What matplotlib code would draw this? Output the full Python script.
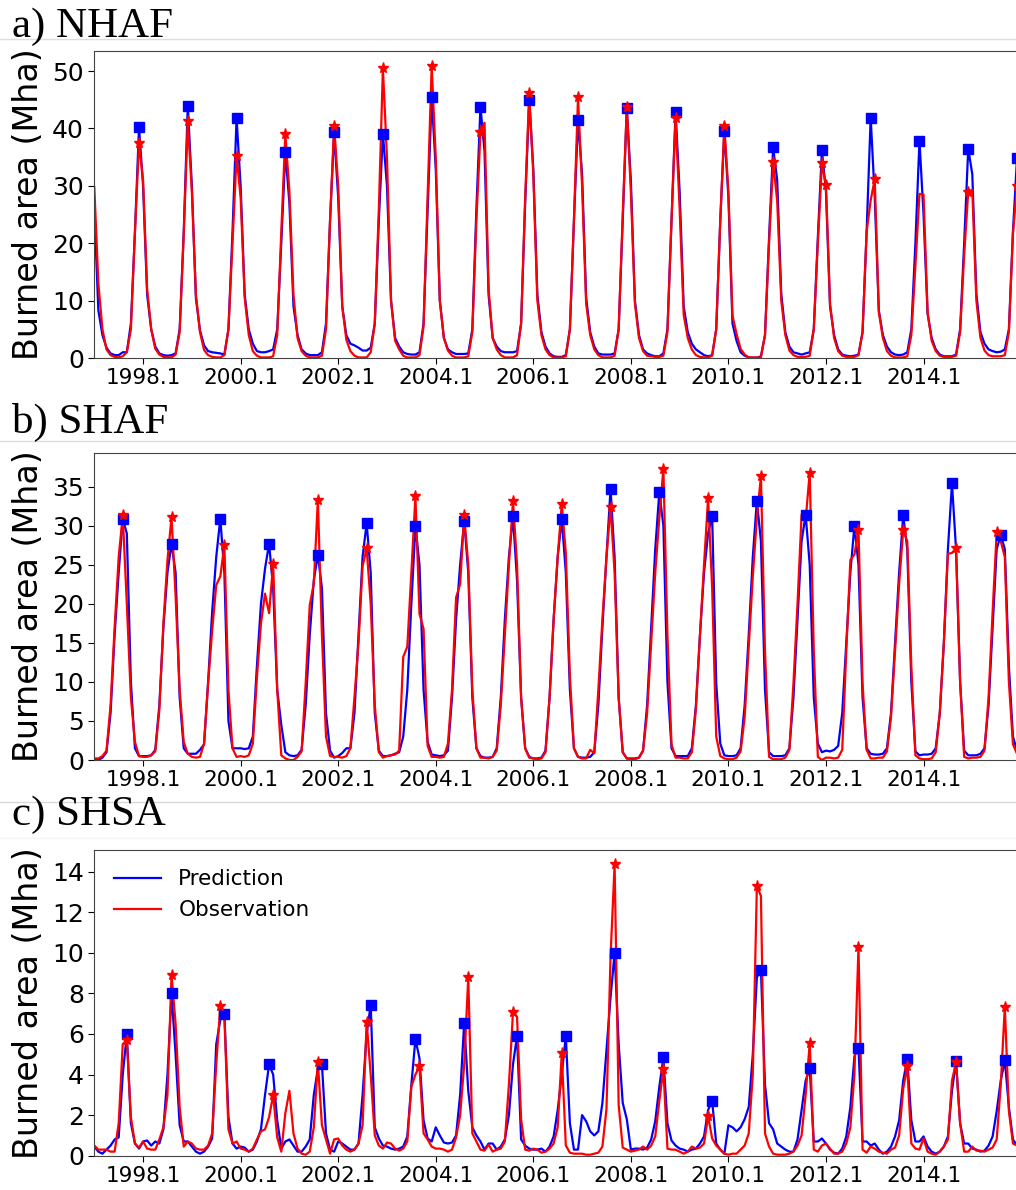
import numpy as np
import matplotlib
matplotlib.use('Agg')
import matplotlib.pyplot as plt
from matplotlib.lines import Line2D

# monthly values, Jan 1997 .. Dec 2015 (one row per year)
nhaf_obs = [
    [29.8, 13.0, 5.0, 1.5, 0.5, 0.2, 0.1, 0.3, 1.0, 5.0, 22.0, 37.4],
    [31.0, 12.0, 5.0, 1.6, 0.6, 0.2, 0.1, 0.1, 0.6, 4.5, 21.5, 41.3],
    [29.0, 11.0, 4.5, 1.4, 0.5, 0.2, 0.1, 0.1, 0.5, 5.0, 20.0, 35.2],
    [28.0, 10.5, 4.0, 1.2, 0.4, 0.1, 0.1, 0.1, 0.3, 4.0, 22.0, 39.0],
    [29.0, 11.0, 3.5, 1.2, 0.4, 0.1, 0.1, 0.1, 0.4, 5.0, 24.0, 40.5],
    [30.0, 9.0, 3.2, 1.2, 0.4, 0.1, 0.1, 0.1, 1.0, 6.0, 26.0, 50.5],
    [35.0, 10.0, 3.0, 1.5, 0.4, 0.1, 0.1, 0.1, 0.5, 5.5, 28.0, 50.9],
    [35.0, 10.0, 3.5, 1.3, 0.4, 0.1, 0.1, 0.1, 0.3, 4.5, 24.0, 39.3],
    [41.0, 12.0, 3.5, 1.5, 0.5, 0.1, 0.1, 0.1, 0.5, 6.0, 28.0, 46.1],
    [32.0, 10.0, 4.0, 1.5, 0.5, 0.1, 0.1, 0.1, 0.3, 5.0, 24.0, 45.4],
    [30.0, 9.5, 4.0, 1.5, 0.5, 0.1, 0.1, 0.1, 0.4, 5.0, 25.0, 43.8],
    [29.0, 9.5, 3.5, 1.2, 0.4, 0.3, 0.2, 0.2, 0.4, 4.5, 24.0, 41.9],
    [26.0, 7.5, 3.5, 1.5, 0.5, 0.2, 0.1, 0.1, 0.4, 5.0, 24.0, 40.4],
    [29.0, 7.4, 4.2, 1.6, 0.6, 0.1, 0.1, 0.1, 0.1, 4.0, 20.0, 34.1],
    [27.4, 10.0, 4.0, 1.3, 0.5, 0.2, 0.2, 0.2, 0.4, 5.0, 20.0, 33.9],
    [30.1, 9.5, 3.5, 1.2, 0.4, 0.2, 0.2, 0.2, 0.5, 4.5, 22.0, 27.5],
    [31.2, 8.0, 3.5, 1.2, 0.4, 0.1, 0.1, 0.1, 0.3, 4.0, 16.0, 28.6],
    [28.5, 8.0, 3.0, 1.2, 0.4, 0.2, 0.2, 0.2, 0.4, 4.5, 18.0, 29.0],
    [29.3, 10.0, 3.5, 1.3, 0.5, 0.3, 0.3, 0.3, 0.5, 4.5, 21.7, 30.0],
]
nhaf_pred = [
    [26.0, 8.3, 4.0, 1.8, 0.8, 0.5, 0.5, 1.0, 1.0, 6.0, 22.0, 40.2],
    [30.0, 11.0, 5.0, 2.0, 0.8, 0.5, 0.4, 0.5, 0.8, 5.0, 22.0, 44.0],
    [30.0, 10.4, 4.8, 2.2, 1.2, 1.0, 0.9, 0.8, 0.6, 5.0, 22.0, 41.8],
    [30.0, 11.0, 5.0, 2.5, 1.2, 1.0, 1.0, 1.2, 1.5, 5.0, 20.0, 35.9],
    [27.0, 9.0, 4.0, 1.5, 0.8, 0.5, 0.5, 0.5, 1.0, 6.0, 24.0, 39.3],
    [28.0, 9.0, 4.0, 2.5, 2.2, 1.8, 1.3, 1.3, 1.8, 6.0, 24.0, 39.1],
    [30.0, 10.0, 3.5, 2.0, 1.0, 0.7, 0.6, 0.6, 1.0, 6.0, 26.0, 45.5],
    [33.0, 10.0, 3.5, 1.5, 1.0, 0.7, 0.7, 0.7, 0.8, 5.0, 26.0, 43.8],
    [36.0, 11.0, 3.5, 2.0, 1.2, 1.0, 1.0, 1.0, 1.2, 6.0, 27.0, 44.9],
    [33.0, 11.0, 4.5, 2.0, 0.8, 0.3, 0.2, 0.2, 0.5, 5.0, 24.0, 41.5],
    [32.0, 10.5, 4.5, 2.0, 0.8, 0.6, 0.6, 0.6, 0.8, 5.0, 24.0, 43.6],
    [31.0, 10.0, 4.0, 1.5, 0.8, 0.5, 0.3, 0.3, 0.8, 5.0, 24.0, 42.9],
    [29.0, 9.0, 4.5, 2.5, 1.5, 1.0, 0.5, 0.3, 0.5, 5.0, 24.0, 39.6],
    [28.0, 6.0, 3.0, 1.0, 0.4, 0.1, 0.05, 0.05, 0.3, 4.0, 21.0, 36.7],
    [31.0, 11.2, 4.5, 2.0, 1.0, 0.8, 0.6, 0.8, 1.0, 5.0, 21.0, 36.2],
    [29.0, 9.0, 4.0, 1.5, 0.6, 0.4, 0.3, 0.4, 0.6, 4.5, 22.0, 41.9],
    [28.0, 8.3, 4.0, 2.0, 1.0, 0.6, 0.5, 0.6, 1.0, 5.0, 20.0, 37.9],
    [25.0, 7.7, 3.5, 1.5, 0.6, 0.3, 0.3, 0.3, 0.6, 5.0, 20.0, 36.5],
    [32.0, 11.2, 4.5, 2.5, 1.5, 1.2, 1.0, 1.1, 1.5, 5.0, 22.0, 34.8],
]

shaf_obs = [
    [0.2, 0.2, 0.5, 1.2, 7.0, 17.0, 26.0, 31.3, 20.0, 8.0, 2.3, 0.5],
    [0.4, 0.4, 0.6, 1.1, 6.4, 17.5, 25.6, 31.1, 21.0, 9.0, 2.3, 0.8],
    [0.4, 0.3, 0.4, 2.1, 9.8, 16.6, 22.4, 23.5, 27.5, 9.0, 1.5, 0.4],
    [0.5, 0.4, 0.6, 2.1, 10.5, 17.5, 21.3, 18.8, 25.1, 9.0, 0.6, 0.2],
    [0.0, 0.0, 0.4, 1.1, 9.8, 19.8, 22.6, 33.3, 16.0, 3.0, 0.5, 0.4],
    [0.4, 0.3, 0.5, 1.5, 8.0, 15.0, 24.8, 27.1, 20.0, 7.0, 1.0, 0.3],
    [0.5, 0.6, 0.7, 1.2, 13.2, 14.5, 24.0, 33.8, 18.7, 16.8, 1.8, 0.4],
    [0.4, 0.3, 0.4, 2.1, 9.0, 20.8, 22.5, 31.3, 25.0, 9.0, 1.5, 0.3],
    [0.3, 0.2, 0.4, 1.2, 7.0, 16.0, 25.0, 33.2, 25.0, 8.0, 1.5, 0.3],
    [0.2, 0.1, 0.2, 1.0, 8.0, 18.0, 26.0, 32.8, 26.5, 10.7, 1.5, 0.4],
    [0.2, 0.2, 1.3, 0.85, 9.0, 18.0, 26.0, 32.4, 24.0, 8.0, 1.0, 0.2],
    [0.1, 0.1, 0.3, 1.2, 6.0, 15.0, 24.0, 31.0, 37.3, 16.0, 2.0, 0.3],
    [0.3, 0.2, 0.2, 1.0, 6.5, 16.0, 25.0, 33.5, 22.0, 3.0, 0.5, 0.2],
    [0.1, 0.1, 0.3, 1.1, 5.5, 14.5, 23.5, 31.0, 36.3, 14.0, 0.4, 0.1],
    [0.1, 0.1, 0.3, 1.3, 9.8, 20.0, 31.4, 30.7, 36.8, 14.0, 0.4, 0.0],
    [0.3, 0.3, 0.2, 0.3, 1.3, 14.0, 25.6, 26.3, 29.5, 9.8, 1.3, 0.2],
    [0.2, 0.3, 0.3, 1.1, 5.5, 14.0, 22.6, 29.4, 28.0, 12.0, 0.6, 0.2],
    [0.1, 0.1, 0.2, 1.0, 6.0, 15.0, 26.4, 26.5, 27.1, 10.0, 0.4, 0.2],
    [0.3, 0.3, 0.4, 1.2, 8.0, 19.0, 29.2, 28.0, 26.0, 10.0, 2.0, 0.8],
]
shaf_pred = [
    [0.0, 0.0, 0.3, 1.0, 6.0, 16.0, 24.0, 30.9, 29.0, 10.0, 1.5, 0.5],
    [0.5, 0.5, 0.6, 1.3, 7.0, 17.0, 24.0, 27.7, 24.0, 8.0, 1.5, 0.8],
    [0.8, 0.8, 1.3, 2.0, 10.0, 19.0, 26.0, 30.9, 24.0, 5.0, 1.5, 1.5],
    [1.5, 1.4, 1.5, 3.0, 12.0, 20.0, 24.5, 27.7, 22.0, 9.0, 4.5, 1.0],
    [0.6, 0.5, 0.6, 1.3, 7.0, 16.0, 23.0, 26.3, 22.0, 6.0, 1.2, 0.3],
    [0.5, 0.9, 1.5, 1.5, 6.0, 16.0, 26.0, 30.3, 24.0, 6.0, 1.2, 0.5],
    [0.5, 0.6, 0.8, 1.0, 3.0, 9.0, 20.0, 29.9, 25.0, 9.0, 2.3, 0.7],
    [0.6, 0.5, 0.6, 1.2, 8.0, 18.0, 25.0, 30.6, 24.0, 8.0, 1.5, 0.5],
    [0.3, 0.3, 0.4, 1.5, 8.0, 18.0, 26.0, 31.2, 23.0, 8.0, 1.5, 0.4],
    [0.2, 0.2, 0.3, 1.2, 8.0, 18.0, 26.0, 30.9, 24.0, 9.0, 1.5, 0.4],
    [0.3, 0.3, 0.4, 1.0, 7.0, 17.0, 26.0, 34.7, 26.0, 8.0, 1.0, 0.2],
    [0.2, 0.2, 0.3, 1.2, 7.0, 17.0, 27.0, 34.3, 30.0, 10.0, 1.5, 0.5],
    [0.5, 0.5, 0.5, 1.5, 7.0, 16.0, 24.0, 29.0, 31.2, 9.8, 2.1, 0.6],
    [0.5, 0.5, 0.6, 1.5, 7.0, 16.0, 26.0, 33.2, 28.0, 9.0, 1.0, 0.5],
    [0.5, 0.5, 0.6, 1.5, 8.0, 18.0, 28.0, 31.4, 25.0, 8.0, 2.1, 1.0],
    [1.2, 1.1, 1.3, 1.8, 6.0, 15.0, 24.0, 30.0, 25.0, 8.0, 1.5, 0.8],
    [0.7, 0.7, 0.8, 1.5, 6.0, 15.0, 24.0, 31.3, 27.0, 10.0, 1.1, 0.6],
    [0.7, 0.7, 0.8, 1.5, 6.0, 15.0, 27.0, 35.4, 27.0, 10.0, 1.2, 0.6],
    [0.6, 0.6, 0.8, 1.5, 7.0, 17.0, 27.0, 28.8, 27.0, 12.0, 3.0, 1.2],
]

shsa_obs = [
    [0.5, 0.3, 0.3, 0.3, 0.2, 0.2, 1.6, 5.5, 5.7, 1.9, 0.6, 0.4],
    [0.7, 0.35, 0.3, 0.3, 0.8, 1.4, 3.0, 8.9, 6.5, 2.4, 0.45, 0.7],
    [0.6, 0.35, 0.3, 0.3, 0.5, 1.1, 4.5, 7.4, 6.9, 1.3, 0.6, 0.7],
    [0.35, 0.3, 0.2, 0.35, 0.8, 1.2, 1.3, 1.9, 3.0, 0.9, 0.2, 2.1],
    [3.2, 1.1, 0.35, 0.1, 0.05, 0.2, 1.4, 4.6, 1.5, 0.8, 0.1, 0.8],
    [0.85, 0.5, 0.3, 0.2, 0.3, 0.6, 1.5, 6.6, 4.0, 1.0, 0.5, 0.35],
    [0.65, 0.6, 0.35, 0.25, 0.35, 0.7, 3.4, 4.0, 4.4, 1.1, 0.8, 0.45],
    [0.35, 0.35, 0.3, 0.2, 0.3, 0.9, 2.0, 4.5, 8.8, 1.1, 0.7, 0.3],
    [0.25, 0.55, 0.2, 0.3, 0.35, 0.7, 3.5, 7.07, 6.85, 1.8, 0.3, 0.25],
    [0.35, 0.3, 0.15, 0.2, 0.35, 0.6, 1.4, 5.05, 0.5, 0.15, 0.1, 0.1],
    [0.1, 0.05, 0.05, 0.1, 0.15, 0.45, 2.3, 9.8, 14.36, 2.5, 0.4, 0.3],
    [0.2, 0.25, 0.3, 0.45, 0.3, 0.5, 0.95, 2.7, 4.25, 0.35, 0.3, 0.3],
    [0.2, 0.1, 0.2, 0.45, 0.35, 0.4, 0.6, 1.95, 0.85, 0.5, 0.3, 0.1],
    [0.05, 0.1, 0.1, 0.3, 0.5, 1.1, 4.0, 13.3, 12.8, 1.1, 0.45, 0.1],
    [0.05, 0.05, 0.05, 0.1, 0.2, 0.5, 1.0, 3.0, 5.55, 0.3, 0.2, 0.5],
    [0.6, 0.35, 0.1, 0.1, 0.2, 0.6, 1.4, 4.0, 10.3, 0.3, 0.15, 0.45],
    [0.35, 0.2, 0.15, 0.1, 0.3, 0.4, 1.0, 3.3, 4.4, 0.6, 0.35, 0.3],
    [0.85, 0.2, 0.1, 0.05, 0.2, 0.45, 0.8, 3.7, 4.6, 1.6, 0.2, 0.2],
    [0.45, 0.25, 0.25, 0.2, 0.3, 0.4, 0.8, 3.5, 7.35, 2.2, 0.6, 0.5],
]
shsa_pred = [
    [0.45, 0.2, 0.1, 0.3, 0.5, 0.8, 0.9, 4.0, 6.0, 1.6, 0.6, 0.35],
    [0.7, 0.75, 0.5, 0.7, 0.6, 1.3, 4.0, 8.0, 5.0, 1.5, 0.7, 0.7],
    [0.45, 0.2, 0.1, 0.2, 0.45, 0.85, 5.5, 6.7, 7.0, 1.9, 0.6, 0.35],
    [0.45, 0.4, 0.2, 0.3, 0.7, 1.3, 3.0, 4.5, 4.0, 1.75, 0.35, 0.7],
    [0.8, 0.5, 0.2, 0.2, 0.45, 0.8, 3.0, 4.3, 4.5, 1.1, 0.3, 0.2],
    [0.7, 0.6, 0.45, 0.3, 0.3, 0.6, 3.0, 6.0, 7.45, 1.4, 0.85, 0.5],
    [0.45, 0.35, 0.3, 0.35, 0.45, 0.95, 3.5, 5.75, 4.8, 1.75, 0.85, 0.7],
    [1.4, 1.0, 0.65, 0.6, 0.65, 1.0, 3.0, 6.55, 3.2, 1.4, 1.0, 0.7],
    [0.3, 0.6, 0.6, 0.3, 0.45, 0.8, 2.0, 4.5, 5.9, 0.8, 0.5, 0.35],
    [0.3, 0.3, 0.35, 0.2, 0.45, 0.95, 2.25, 4.0, 5.9, 1.6, 0.3, 0.3],
    [2.0, 1.7, 1.2, 1.0, 1.2, 2.6, 5.2, 7.8, 10.0, 5.5, 2.6, 1.8],
    [0.3, 0.35, 0.35, 0.3, 0.4, 0.8, 1.7, 3.4, 4.85, 1.6, 0.75, 0.5],
    [0.35, 0.3, 0.2, 0.3, 0.35, 0.6, 0.95, 2.25, 2.7, 0.6, 0.3, 0.1],
    [1.5, 1.4, 1.2, 1.4, 1.8, 2.4, 5.0, 8.8, 9.15, 3.5, 1.6, 1.3],
    [0.6, 0.45, 0.3, 0.2, 0.2, 0.8, 2.25, 3.7, 4.3, 0.7, 0.7, 0.85],
    [0.6, 0.3, 0.15, 0.1, 0.35, 0.95, 2.4, 4.9, 5.3, 0.7, 0.7, 0.5],
    [0.6, 0.3, 0.1, 0.2, 0.45, 0.95, 1.75, 3.7, 4.75, 1.75, 0.7, 0.7],
    [0.95, 0.45, 0.2, 0.1, 0.2, 0.45, 0.95, 3.2, 4.65, 1.6, 0.6, 0.6],
    [0.35, 0.3, 0.2, 0.25, 0.5, 0.95, 2.2, 3.7, 4.7, 2.4, 0.8, 0.5],
]

titles = ['a) NHAF', 'b) SHAF', 'c) SHSA']
tick_labels = ['1998.1', '2000.1', '2002.1', '2004.1', '2006.1', '2008.1', '2010.1', '2012.1', '2014.1']
tick_pos = [12, 36, 60, 84, 108, 132, 156, 180, 204]

fig = plt.figure(figsize=(10.16, 11.90), dpi=100)
W, H = 1016.0, 1190.0

panels = [
    (nhaf_pred, nhaf_obs, 53.5, np.arange(0, 51, 10), 51, 358, 37, [(39, '#dddddd')]),
    (shaf_pred, shaf_obs, 39.3, np.arange(0, 36, 5), 453, 760, 433, [(441, '#dddddd')]),
    (shsa_pred, shsa_obs, 15.07, np.arange(0, 15, 2), 850, 1155.7, 825,
     [(802, '#d8d8d8'), (838, '#f3f3f3')]),
]

for k, (pred, obs, ytop, yt, top_px, bot_px, title_px, seps) in enumerate(panels):
    pred = np.array(pred).ravel()
    obs = np.array(obs).ravel()
    x = np.arange(len(pred))

    ax = fig.add_axes([94.3 / W, 1 - bot_px / H, 1.001 - 94.3 / W, (bot_px - top_px) / H])
    ax.plot(x, pred, color='b', lw=1.6, label='Prediction')
    ax.plot(x, obs, color='r', lw=1.6, label='Observation')

    # yearly maxima
    ip = np.arange(19) * 12 + pred.reshape(19, 12).argmax(axis=1)
    io = np.arange(19) * 12 + obs.reshape(19, 12).argmax(axis=1)
    ax.plot(ip, pred[ip], 's', color='b', ms=6.5, ls='none', clip_on=False)
    ax.plot(io, obs[io], '*', color='r', ms=8, ls='none', clip_on=False)

    ax.set_xlim(0, 227)
    ax.set_ylim(0, ytop)
    ax.set_yticks(yt)
    ax.set_xticks(tick_pos)
    ax.set_xticklabels(tick_labels)
    ax.tick_params(axis='x', labelsize=15.5, length=4)
    ax.tick_params(axis='y', labelsize=18, length=4)
    for s in ax.spines.values():
        s.set_color('#444444')
    ax.spines['right'].set_visible(False)
    ax.set_ylabel('Burned area (Mha)', fontsize=24)
    ax.yaxis.set_label_coords(-0.053, 0.5)

    fig.text(12 / W, 1 - title_px / H, titles[k], fontsize=31,
             family=['Liberation Serif', 'DejaVu Serif'], ha='left', va='baseline')
    for yy, c in seps:
        fig.add_artist(Line2D([0, 1], [1 - yy / H, 1 - yy / H], color=c, lw=1))

    if k == 2:
        ax.legend(loc='upper left', frameon=False, fontsize=15.5, handlelength=2.2)

fig.savefig('out.png', dpi=100)
